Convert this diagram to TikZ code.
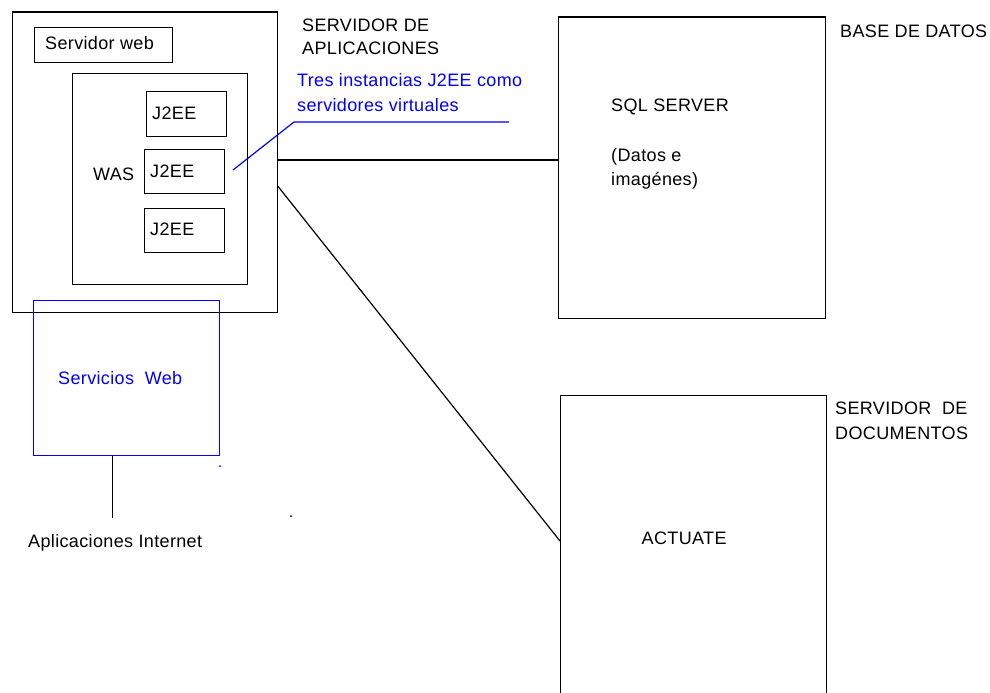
\documentclass[tikz,border=0pt]{standalone}
\usepackage{fontspec}
\setmainfont{Liberation Sans}[LetterSpace=2]
\tikzset{
  box/.style={draw, line width=1.2pt, inner sep=0pt, anchor=north west},
  bluebox/.style={box, draw=blue},
  lbl/.style={inner sep=0pt, anchor=base west, font=\fontsize{18}{22}\selectfont},
  bluelbl/.style={lbl, text=blue},
  wire/.style={line width=1.2pt},
  bluewire/.style={line width=1.2pt, draw=blue},
}
\begin{document}
\begin{tikzpicture}[x=1pt,y=-1pt]
\clip (0,0) rectangle (990,693);
\fill[white] (0,0) rectangle (990,693);
% application server
\node[box, minimum width=265pt, minimum height=300pt] (app) at (11.5,11.5) {};
\node[box, minimum width=138pt, minimum height=35pt] (web) at (34,27) {};
\node[lbl] (webt) at (45,50) {Servidor web};
\node[box, minimum width=175pt, minimum height=211pt] (was) at (72,73) {};
\node[lbl] (wast) at (93,180) {WAS};
\node[box, minimum width=80pt, minimum height=45pt] (j1) at (146,91) {};
\node[box, minimum width=80pt, minimum height=44pt] (j2) at (144,149) {};
\node[box, minimum width=80pt, minimum height=44pt] (j3) at (144,208) {};
\node[lbl] (j1t) at (152,119) {J2EE};
\node[lbl] (j2t) at (150,177) {J2EE};
\node[lbl] (j3t) at (150,235) {J2EE};
\node[lbl] (aplt1) at (302,32) {SERVIDOR DE};
\node[lbl] (aplt2) at (302,55) {APLICACIONES};
% blue annotation
\node[bluelbl] (tres1) at (297,86.5) {Tres instancias J2EE como};
\node[bluelbl] (tres2) at (297,111.5) {servidores virtuales};
\coordinate (ld0) at (233,170);
\coordinate (ld1) at (294,122);
\coordinate (ld2) at (509,122);
\draw[bluewire] (ld0) -- (ld1) -- (ld2);
% web services
\node[bluebox, minimum width=186pt, minimum height=155pt] (ws) at (32.5,300) {};
\node[bluelbl] (wst) at (58,384) {Servicios\ \ Web};
\coordinate (wsx) at (112.5,0);
\coordinate (inet) at (112.5,518);
\draw[wire] (ws.south -| wsx) -- (inet);
\node[lbl] (inett) at (28,547) {Aplicaciones Internet};
\fill[blue] (220,466) circle (1pt);
\fill[black] (291,516) circle (1pt);
% SQL server
\node[box, minimum width=267pt, minimum height=301pt] (sql) at (557.5,16.5) {};
\node[lbl] (sqlt) at (611,111.5) {SQL SERVER};
\node[lbl] (dat1) at (611,161.5) {(Datos e};
\node[lbl] (dat2) at (611,185.5) {imagénes)};
\node[lbl] (bdt) at (840,37.5) {BASE DE DATOS};
% Actuate
\node[box, minimum width=266pt, minimum height=320pt] (act) at (560,395) {};
\node[lbl] (actt) at (641.5,544) {ACTUATE};
\node[lbl] (docs1) at (835,414) {SERVIDOR\ \ DE};
\node[lbl] (docs2) at (835,439) {DOCUMENTOS};
% connectors
\coordinate (h) at (0,160);
\draw[wire] (app.east |- h) -- (sql.west |- h);
\coordinate (d0) at (0,186);
\coordinate (d1) at (0,541);
\draw[wire] (app.east |- d0) -- (act.west |- d1);
\end{tikzpicture}
\end{document}
